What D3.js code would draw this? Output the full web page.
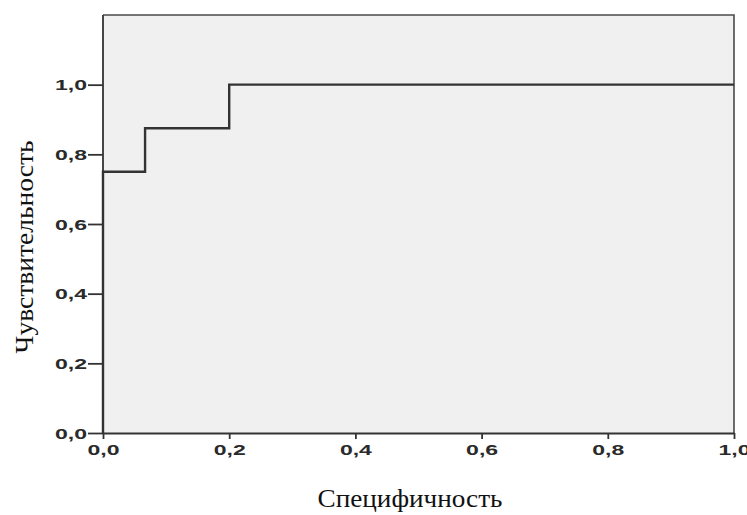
<!DOCTYPE html>
<html>
<head>
<meta charset="utf-8">
<script src="https://cdn.jsdelivr.net/npm/d3@7"></script>
<style>
  html, body { margin: 0; padding: 0; background: #ffffff; }
  svg { display: block; }
</style>
</head>
<body>
<svg id="chart" width="747" height="515"></svg>
<script>
// ROC curve vertices (1 − specificity, sensitivity)
const rocX = [0, 0, 1 / 15, 1 / 15, 0.2, 0.2, 1];
const rocY = [0, 0.75, 0.75, 0.875, 0.875, 1, 1];

// Tick values and their comma-decimal labels
const xTicks = [0, 0.2, 0.4, 0.6, 0.8, 1.0];
const yTicks = [0, 0.2, 0.4, 0.6, 0.8, 1.0];
const fmt = d => d3.format(".1f")(d).replace(".", ",");

const xTitle = "Специфичность";
const yTitle = "Чувствительность";

const svg = d3.select("#chart");
const plotL = 103, plotR = 734, plotT = 15, plotB = 433;

const x = d3.scaleLinear().domain([0, 1]).range([plotL, plotR]);
const y = d3.scaleLinear().domain([0, 1.2]).range([plotB, plotT]);

// plot background
svg.append("rect")
  .attr("x", plotL).attr("y", plotT)
  .attr("width", plotR - plotL).attr("height", plotB - plotT)
  .attr("fill", "#f0f0f0");

// frame: top and right edges
svg.append("path")
  .attr("d", `M${plotL},${plotT}H${plotR}V${plotB}`)
  .attr("fill", "none").attr("stroke", "#4a4a4a").attr("stroke-width", 1.6);

// axes
const xAxis = svg.append("g")
  .attr("transform", `translate(0,${plotB})`)
  .call(d3.axisBottom(x).tickValues(xTicks).tickFormat(fmt).tickSize(6).tickSizeOuter(0));
const yAxis = svg.append("g")
  .attr("transform", `translate(${plotL},0)`)
  .call(d3.axisLeft(y).tickValues(yTicks).tickFormat(fmt).tickSize(15).tickSizeOuter(0));

[xAxis, yAxis].forEach(g => {
  g.select(".domain").attr("stroke", "#333").attr("stroke-width", 1.8);
  g.selectAll(".tick line").attr("stroke", "#333").attr("stroke-width", 1.8);
  g.selectAll(".tick text")
    .attr("fill", "#2a2a2a")
    .attr("font-family", "Liberation Sans, Arial, sans-serif")
    .attr("font-weight", "bold")
    .attr("font-size", 14)
    .attr("textLength", 32)
    .attr("lengthAdjust", "spacingAndGlyphs");
});
yAxis.select(".domain").attr("d", `M0,${plotT}V${plotB}`);
xAxis.selectAll(".tick text").attr("y", 12);
yAxis.selectAll(".tick text").attr("x", -16).attr("dy", "0.36em");

// ROC step line
const line = d3.line().x(d => x(d[0])).y(d => y(d[1]));
svg.append("path")
  .datum(rocX.map((v, i) => [v, rocY[i]]))
  .attr("d", line)
  .attr("fill", "none")
  .attr("stroke", "#333")
  .attr("stroke-width", 2.4);

// axis titles
svg.append("text")
  .attr("x", 410).attr("y", 507)
  .attr("text-anchor", "middle")
  .attr("font-family", "Liberation Serif, Times New Roman, serif")
  .attr("font-size", 25)
  .attr("textLength", 185)
  .attr("lengthAdjust", "spacingAndGlyphs")
  .attr("fill", "#111")
  .text(xTitle);

svg.append("text")
  .attr("transform", "translate(33,247) rotate(-90)")
  .attr("text-anchor", "middle")
  .attr("font-family", "Liberation Serif, Times New Roman, serif")
  .attr("font-size", 25)
  .attr("textLength", 213)
  .attr("lengthAdjust", "spacingAndGlyphs")
  .attr("fill", "#111")
  .text(yTitle);
</script>
</body>
</html>
